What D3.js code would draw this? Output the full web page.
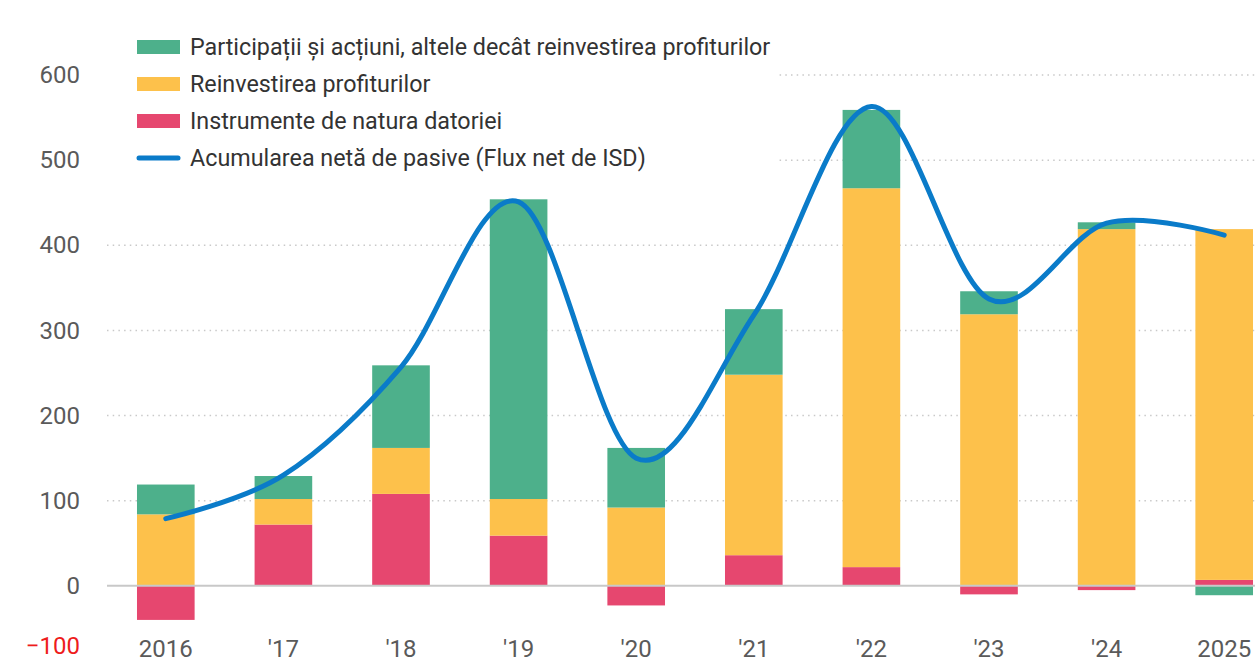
<!DOCTYPE html>
<html>
<head>
<meta charset="utf-8">
<script src="https://cdn.jsdelivr.net/npm/d3@7"></script>
<style>
  html, body { margin: 0; padding: 0; background: #fff; }
  svg { display: block; }
</style>
</head>
<body>
<svg id="chart" width="1255" height="664"></svg>
<script>
// ---- data ----
const years = ["2016", "'17", "'18", "'19", "'20", "'21", "'22", "'23", "'24", "2025"];
const debtInstruments = [-40, 72, 108, 59, -23, 36, 22, -10, -5, 7];     // Instrumente de natura datoriei
const reinvestedEarnings = [84, 30, 54, 43, 92, 212, 445, 319, 419, 412]; // Reinvestirea profiturilor
const equityOther = [35, 27, 97, 352, 70, 77, 92, 27, 8, -11];           // Participații și acțiuni...
const netFlow = [79, 130, 257, 451, 150, 318, 563, 337, 426, 412];       // Flux net de ISD
const yTicks = [-100, 0, 100, 200, 300, 400, 500, 600];
const legendLabels = [
  "Participații și acțiuni, altele decât reinvestirea profiturilor",
  "Reinvestirea profiturilor",
  "Instrumente de natura datoriei",
  "Acumularea netă de pasive (Flux net de ISD)"
];

// ---- styles ----
const colors = { equity: "#4DB08B", reinvest: "#FDC14B", debt: "#E6476F", line: "#0A7BC9" };
const W = 1255, H = 664;
const svg = d3.select("#chart");

const rows = years.map((yr, i) => ({
  year: yr,
  debt: debtInstruments[i],
  reinvest: reinvestedEarnings[i],
  equity: equityOther[i],
  net: netFlow[i]
}));

const x = d3.scaleBand().domain(years).range([107, 1283]).paddingInner(0.51).paddingOuter(0.255);
const y = d3.scaleLinear().domain([-100, 600]).range([671, 75]);

// gridlines
const gridX0 = 107;
svg.append("g").selectAll("line")
  .data(yTicks.filter(t => t !== 0 && t !== -100))
  .join("line")
  .attr("x1", gridX0).attr("x2", W)
  .attr("y1", d => y(d)).attr("y2", d => y(d))
  .attr("stroke", "#c9c9c9").attr("stroke-width", 1.5)
  .attr("stroke-dasharray", "1.5,4.2");

// y axis labels
const yAxis = d3.axisLeft(y).tickValues(yTicks).tickSize(0).tickPadding(0).tickFormat(d3.format("d"));
const gy = svg.append("g").attr("transform", "translate(80,0)").call(yAxis);
gy.select(".domain").remove();
gy.selectAll(".tick text")
  .attr("font-family", "Roboto, 'Noto Sans', sans-serif")
  .attr("font-size", 24)
  .attr("fill", d => d < 0 ? "#ee1c1c" : "#5a5a5a")
  .attr("dy", "0.32em");
// keep the -100 label inside the picture
gy.selectAll(".tick").filter(d => d === -100)
  .attr("transform", d => `translate(0,${Math.min(y(d), H - 18)})`);

// stacked bars
const keys = ["debt", "reinvest", "equity"];
const stack = d3.stack().keys(keys).offset(d3.stackOffsetDiverging);
const series = stack(rows);
svg.append("g").selectAll("g")
  .data(series)
  .join("g")
  .attr("fill", s => colors[s.key])
  .selectAll("rect")
  .data(s => s)
  .join("rect")
  .attr("x", d => x(d.data.year))
  .attr("width", x.bandwidth())
  .attr("y", d => y(Math.max(d[0], d[1])))
  .attr("height", d => Math.abs(y(d[0]) - y(d[1])));

// zero baseline
svg.append("line")
  .attr("x1", gridX0).attr("x2", W)
  .attr("y1", y(0)).attr("y2", y(0))
  .attr("stroke", "#c8c8c8").attr("stroke-width", 2);

// x axis labels
const xAxis = d3.axisBottom(x).tickSize(0).tickPadding(0);
const gx = svg.append("g").attr("transform", `translate(0,${H - 7})`).call(xAxis);
gx.select(".domain").remove();
gx.selectAll(".tick text")
  .attr("font-family", "Roboto, 'Noto Sans', sans-serif")
  .attr("font-size", 24)
  .attr("fill", "#5a5a5a")
  .attr("dy", 0)
  .attr("y", 0);

// line
const line = d3.line()
  .x(d => x(d.year) + x.bandwidth() / 2)
  .y(d => y(d.net))
  .curve(d3.curveCatmullRom.alpha(0));
svg.append("path")
  .datum(rows)
  .attr("d", line)
  .attr("fill", "none")
  .attr("stroke", colors.line)
  .attr("stroke-width", 5)
  .attr("stroke-linecap", "round")
  .attr("stroke-linejoin", "round");

// legend (white background hides gridlines)
const legend = svg.append("g");
legend.append("rect")
  .attr("x", 100).attr("y", 22).attr("width", 676).attr("height", 160)
  .attr("fill", "#fff");
const legendColors = [colors.equity, colors.reinvest, colors.debt, colors.line];
const lg = legend.selectAll("g.item")
  .data(legendLabels)
  .join("g")
  .attr("class", "item")
  .attr("transform", (d, i) => `translate(137,${47 + i * 37})`);
lg.each(function(d, i) {
  const g = d3.select(this);
  if (i < 3) {
    g.append("rect").attr("x", 0).attr("y", -7).attr("width", 43).attr("height", 14)
      .attr("fill", legendColors[i]);
  } else {
    g.append("line").attr("x1", 2).attr("x2", 41).attr("y1", 0).attr("y2", 0)
      .attr("stroke", legendColors[i]).attr("stroke-width", 5).attr("stroke-linecap", "round");
  }
  g.append("text")
    .attr("x", 53).attr("y", 0).attr("dy", "0.35em")
    .attr("font-family", "Roboto, 'Noto Sans', sans-serif")
    .attr("font-size", 23.3)
    .attr("fill", "#333")
    .text(d);
});
</script>
</body>
</html>
